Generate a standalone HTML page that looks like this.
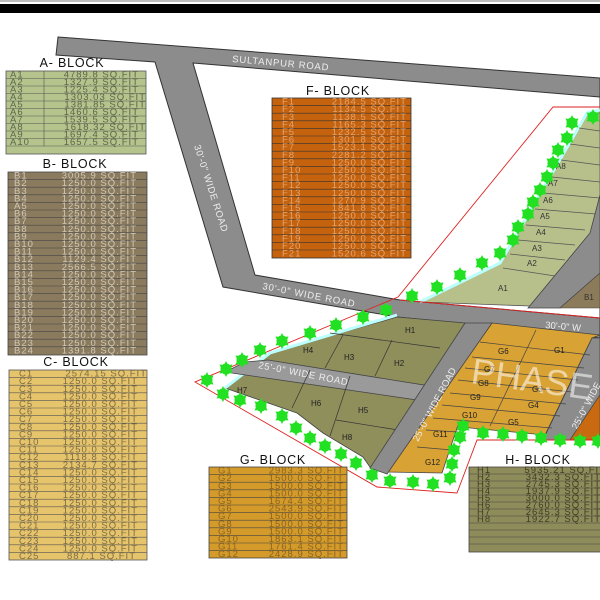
<!DOCTYPE html>
<html><head><meta charset="utf-8"><style>
html,body{margin:0;padding:0;background:#fff;width:600px;height:600px;overflow:hidden}
svg{display:block}
text{font-family:"Liberation Sans",sans-serif}
.tv text{font-size:9.5px;letter-spacing:1px}
</style></head><body>
<svg width="600" height="600" viewBox="0 0 600 600" xmlns="http://www.w3.org/2000/svg">
<defs>
<g id="t"><circle r="5.5" fill="#22e022"/><path d="M0,-8 L2,-4 L6.5,-4.5 L4.5,0 L6.5,4.5 L2,4 L0,8 L-2,4 L-6.5,4.5 L-4.5,0 L-6.5,-4.5 L-2,-4Z" fill="#22e022"/></g>
</defs>
<rect width="600" height="600" fill="#fff"/>
<rect x="0" y="0" width="600" height="2" fill="#bbb"/>
<rect x="0" y="4" width="600" height="9" fill="#000"/>

<polygon points="58,37 600,78 600,338 397,317 223,287 155,62 56,55" fill="#8c8c8c" stroke="#333" stroke-width="1"/>
<polygon points="193,63 600,97 600,318 400,300 255,275" fill="#fff" stroke="#333" stroke-width="1"/>
<text x="232" y="62" font-size="9.5" fill="#eee" letter-spacing="0.8" transform="rotate(5 232 62)">SULTANPUR ROAD</text>
<text x="194" y="146" font-size="9.5" fill="#eee" letter-spacing="0.6" transform="rotate(72 194 146)">30'-0" WIDE ROAD</text>
<text x="262" y="289" font-size="9.5" fill="#eee" letter-spacing="0.8" transform="rotate(11 262 289)">30'-0" WIDE ROAD</text>
<text x="545" y="328" font-size="9.5" fill="#eee" transform="rotate(5 545 328)">30'-0" W</text>

<polygon points="420,302 500,263 587,113 600,110 600,300 530,306" fill="#b7bf8b" stroke="#555" stroke-width="0.8"/>
<polyline points="420,302 500,263 587,113 600,110" fill="none" stroke="#bff" stroke-width="3"/>
<g stroke="#555" stroke-width="0.7">
<line x1="503" y1="268" x2="555" y2="276"/><line x1="510" y1="254" x2="565" y2="260"/>
<line x1="518" y1="240" x2="575" y2="245"/><line x1="526" y1="225" x2="585" y2="230"/>
<line x1="535" y1="209" x2="596" y2="214"/><line x1="543" y1="193" x2="600" y2="198"/>
<line x1="552" y1="177" x2="600" y2="182"/><line x1="561" y1="160" x2="600" y2="165"/>
<line x1="570" y1="144" x2="600" y2="148"/><line x1="579" y1="128" x2="600" y2="131"/>
</g>
<polygon points="528,308 560,308 600,273 600,195 590,233" fill="#8c8c8c" stroke="#444" stroke-width="0.8"/>
<polygon points="560,308 600,308 600,273" fill="#8c7b5a" stroke="#444" stroke-width="0.6"/>
<g font-size="8" fill="#333">
<text x="498" y="291">A1</text><text x="527" y="266">A2</text><text x="532" y="251">A3</text>
<text x="536" y="235">A4</text><text x="540" y="219">A5</text><text x="543" y="203">A6</text>
<text x="548" y="186">A7</text><text x="556" y="169">A8</text><text x="584" y="300">B1</text>
</g>

<polygon points="397,317 465,323 372,470 363,457 323,433 297,413 225,388 270,353" fill="#8f8f5c" stroke="#444" stroke-width="0.8"/>
<polyline points="225,388 270,353 397,315" fill="none" stroke="#bff" stroke-width="3"/>
<polygon points="268,360 430,386 424,401 225,372 245,362" fill="#9a9a9a" stroke="#444" stroke-width="0.8"/>
<text x="258" y="368" font-size="9.5" fill="#eee" letter-spacing="0.6" transform="rotate(11 258 368)">25'-0" WIDE ROAD</text>
<g stroke="#333" stroke-width="0.7">
<line x1="330" y1="333" x2="440" y2="348"/><line x1="343" y1="335" x2="325" y2="368"/>
<line x1="392" y1="340" x2="375" y2="376"/><line x1="310" y1="370" x2="292" y2="408"/>
<line x1="350" y1="376" x2="330" y2="436"/><line x1="336" y1="420" x2="398" y2="430"/>
<line x1="420" y1="400" x2="398" y2="460"/>
</g>
<g font-size="8" fill="#222">
<text x="405" y="333">H1</text><text x="394" y="366">H2</text><text x="344" y="360">H3</text>
<text x="303" y="353">H4</text><text x="237" y="393">H7</text><text x="311" y="406">H6</text>
<text x="358" y="413">H5</text><text x="342" y="440">H8</text>
</g>

<polygon points="492,323 600,335 592,338 545,435 460,427 458,425 442,473 387,472" fill="#d9a234" stroke="#444" stroke-width="0.8"/>
<polygon points="465,323 492,323 387,474 370,468" fill="#8c8c8c" stroke="#444" stroke-width="0.8"/>
<text x="418" y="442" font-size="9.5" fill="#eee" transform="rotate(-62 418 442)">25'-0" WIDE ROAD</text>
<polygon points="592,338 600,338 600,395 570,440 543,440" fill="#8c8c8c" stroke="#444" stroke-width="0.8"/>
<text x="577" y="430" font-size="9.5" fill="#eee" transform="rotate(-62 577 430)">25'-0" WIDE</text>
<polygon points="600,395 600,440 570,440" fill="#c96a10" stroke="#444" stroke-width="0.6"/>
<g stroke="#444" stroke-width="0.7">
<line x1="480" y1="342" x2="590" y2="355"/><line x1="472" y1="357" x2="584" y2="368"/>
<line x1="465" y1="368" x2="578" y2="380"/><line x1="458" y1="380" x2="572" y2="392"/>
<line x1="450" y1="393" x2="566" y2="404"/><line x1="442" y1="405" x2="560" y2="416"/>
<line x1="433" y1="418" x2="552" y2="428"/><line x1="426" y1="430" x2="458" y2="432"/>
<line x1="417" y1="447" x2="452" y2="450"/><line x1="536" y1="330" x2="490" y2="426"/>
</g>
<g font-size="8" fill="#222">
<text x="498" y="354">G6</text><text x="554" y="353">G1</text><text x="484" y="372">G7</text>
<text x="478" y="386">G8</text><text x="532" y="392">G3</text><text x="470" y="400">G9</text>
<text x="528" y="408">G4</text><text x="462" y="418">G10</text><text x="508" y="425">G5</text>
<text x="433" y="437">G11</text><text x="425" y="465">G12</text>
</g>
<text x="470" y="383" font-size="36" fill="#fff" fill-opacity="0.55" transform="rotate(8 470 383)">PHASE</text>

<polyline points="600,107 553,107 398,297 195,382 377,487 457,493 477,440 600,440" fill="none" stroke="#d22" stroke-width="0.9"/>
<polyline points="400,300 600,318" fill="none" stroke="#d22" stroke-width="0.9"/>

<g>
<use href="#t" x="593" y="117"/><use href="#t" x="572" y="123"/><use href="#t" x="567" y="138"/><use href="#t" x="558" y="150"/>
<use href="#t" x="553" y="163"/><use href="#t" x="547" y="177"/><use href="#t" x="540" y="190"/><use href="#t" x="533" y="202"/>
<use href="#t" x="528" y="214"/><use href="#t" x="518" y="227"/><use href="#t" x="513" y="240"/><use href="#t" x="500" y="253"/>
<use href="#t" x="482" y="263"/><use href="#t" x="460" y="275"/><use href="#t" x="437" y="287"/><use href="#t" x="412" y="296"/>
<use href="#t" x="386" y="310"/><use href="#t" x="363" y="317"/><use href="#t" x="336" y="325"/><use href="#t" x="310" y="333"/>
<use href="#t" x="282" y="341"/><use href="#t" x="260" y="350"/><use href="#t" x="242" y="360"/><use href="#t" x="226" y="369"/>
<use href="#t" x="207" y="380"/><use href="#t" x="223" y="394"/><use href="#t" x="240" y="400"/><use href="#t" x="261" y="406"/>
<use href="#t" x="282" y="416"/><use href="#t" x="296" y="428"/><use href="#t" x="310" y="438"/><use href="#t" x="325" y="446"/>
<use href="#t" x="341" y="454"/><use href="#t" x="356" y="463"/><use href="#t" x="372" y="475"/><use href="#t" x="390" y="481"/>
<use href="#t" x="413" y="482"/><use href="#t" x="433" y="484"/><use href="#t" x="450" y="478"/><use href="#t" x="452" y="464"/>
<use href="#t" x="454" y="450"/><use href="#t" x="460" y="437"/><use href="#t" x="463" y="426"/>
<use href="#t" x="483" y="433"/><use href="#t" x="503" y="434"/><use href="#t" x="522" y="436"/><use href="#t" x="541" y="438"/>
<use href="#t" x="560" y="440"/><use href="#t" x="580" y="441"/><use href="#t" x="598" y="441"/>
</g>

<g font-size="12.5" fill="#111" text-anchor="middle" letter-spacing="0.8">
<text x="72" y="67">A- BLOCK</text>
<text x="75" y="168">B- BLOCK</text>
<text x="76" y="366">C- BLOCK</text>
<text x="338" y="95">F- BLOCK</text>
<text x="273" y="464">G- BLOCK</text>
<text x="538" y="464">H- BLOCK</text>
</g>

<rect x="6" y="71" width="140" height="83" fill="#b4c48c" stroke="#555" stroke-width="0.8"/>
<g stroke="#555" stroke-width="0.6">
<path d="M6,78.5H146M6,86H146M6,93.5H146M6,101H146M6,108.5H146M6,116H146M6,123.5H146M6,131H146M6,138.5H146M6,146H146M44,71V146"/>
</g>
<g class="tv" fill="#5d654a">
<text x="10" y="77.5">A1</text><text x="10" y="85">A2</text><text x="10" y="92.5">A3</text><text x="10" y="100">A4</text><text x="10" y="107.5">A5</text><text x="10" y="115">A6</text><text x="10" y="122.5">A7</text><text x="10" y="130">A8</text><text x="10" y="137.5">A9</text><text x="10" y="145">A10</text>
</g>
<g class="tv" fill="#5d654a" text-anchor="end">
<text x="139" y="77.5">4789.8 SQ.FIT</text><text x="139" y="85">1327.9 SQ.FIT</text><text x="139" y="92.5">1225.4 SQ.FIT</text><text x="146" y="100">1303.03 SQ.FIT</text><text x="146" y="107.5">1381.85 SQ.FIT</text><text x="139" y="115">1460.6 SQ.FIT</text><text x="139" y="122.5">1539.5 SQ.FIT</text><text x="146" y="130">1618.32 SQ.FIT</text><text x="139" y="137.5">1697.4 SQ.FIT</text><text x="139" y="145">1657.5 SQ.FIT</text>
</g>

<rect x="8" y="172" width="139" height="183" fill="#8b7b5e" stroke="#444" stroke-width="0.8"/>
<g stroke="#444" stroke-width="0.6"><path d="M8,179.6H147M8,187.2H147M8,194.8H147M8,202.4H147M8,210H147M8,217.6H147M8,225.2H147M8,232.8H147M8,240.4H147M8,248H147M8,255.6H147M8,263.2H147M8,270.8H147M8,278.4H147M8,286H147M8,293.6H147M8,301.2H147M8,308.8H147M8,316.4H147M8,324H147M8,331.6H147M8,339.2H147M8,346.8H147"/></g>
<g class="tv" fill="#cfc8b8">
<text x="14" y="178.6">B1</text><text x="14" y="186.2">B2</text><text x="14" y="193.8">B3</text><text x="14" y="201.4">B4</text><text x="14" y="209">A5</text><text x="14" y="216.6">B6</text><text x="14" y="224.2">B7</text><text x="14" y="231.8">B8</text><text x="14" y="239.4">B9</text><text x="14" y="247">B10</text><text x="14" y="254.6">B11</text><text x="14" y="262.2">B12</text><text x="14" y="269.8">B13</text><text x="14" y="277.4">B14</text><text x="14" y="285">B15</text><text x="14" y="292.6">B16</text><text x="14" y="300.2">B17</text><text x="14" y="307.8">B18</text><text x="14" y="315.4">B19</text><text x="14" y="323">B20</text><text x="14" y="330.6">B21</text><text x="14" y="338.2">B22</text><text x="14" y="345.8">B23</text><text x="14" y="353.4">B24</text>
</g>
<g class="tv" fill="#cfc8b8" text-anchor="end">
<text x="137" y="178.6">3005.9 SQ.FIT</text><text x="137" y="186.2">1250.0 SQ.FIT</text><text x="137" y="193.8">1250.0 SQ.FIT</text><text x="137" y="201.4">1250.0 SQ.FIT</text><text x="137" y="209">1250.0 SQ.FIT</text><text x="137" y="216.6">1250.0 SQ.FIT</text><text x="137" y="224.2">1250.0 SQ.FIT</text><text x="137" y="231.8">1250.0 SQ.FIT</text><text x="137" y="239.4">1250.0 SQ.FIT</text><text x="137" y="247">1250.0 SQ.FIT</text><text x="137" y="254.6">1250.0 SQ.FIT</text><text x="137" y="262.2">1129.4 SQ.FIT</text><text x="137" y="269.8">2566.5 SQ.FIT</text><text x="137" y="277.4">1250.0 SQ.FIT</text><text x="137" y="285">1250.0 SQ.FIT</text><text x="137" y="292.6">1250.0 SQ.FIT</text><text x="137" y="300.2">1250.0 SQ.FIT</text><text x="137" y="307.8">1250.0 SQ.FIT</text><text x="137" y="315.4">1250.0 SQ.FIT</text><text x="137" y="323">1250.0 SQ.FIT</text><text x="137" y="330.6">1250.0 SQ.FIT</text><text x="137" y="338.2">1250.0 SQ.FIT</text><text x="137" y="345.8">1250.0 SQ.FIT</text><text x="137" y="353.4">1391.8 SQ.FIT</text>
</g>

<rect x="9" y="370" width="138" height="190" fill="#e6c46c" stroke="#555" stroke-width="0.8"/>
<g stroke="#555" stroke-width="0.6"><path d="M9,377.6H147M9,385.2H147M9,392.8H147M9,400.4H147M9,408H147M9,415.6H147M9,423.2H147M9,430.8H147M9,438.4H147M9,446H147M9,453.6H147M9,461.2H147M9,468.8H147M9,476.4H147M9,484H147M9,491.6H147M9,499.2H147M9,506.8H147M9,514.4H147M9,522H147M9,529.6H147M9,537.2H147M9,544.8H147M9,552.4H147"/></g>
<g class="tv" fill="#7d6d45">
<text x="19" y="376.6">C1</text><text x="19" y="384.2">C2</text><text x="19" y="391.8">C3</text><text x="19" y="399.4">C4</text><text x="19" y="407">C5</text><text x="19" y="414.6">C6</text><text x="19" y="422.2">C7</text><text x="19" y="429.8">C8</text><text x="19" y="437.4">C9</text><text x="19" y="445">C10</text><text x="19" y="452.6">C11</text><text x="19" y="460.2">C12</text><text x="19" y="467.8">C13</text><text x="19" y="475.4">C14</text><text x="19" y="483">C15</text><text x="19" y="490.6">C16</text><text x="19" y="498.2">C17</text><text x="19" y="505.8">C18</text><text x="19" y="513.4">C19</text><text x="19" y="521">C20</text><text x="19" y="528.6">C21</text><text x="19" y="536.2">C22</text><text x="19" y="543.8">C23</text><text x="19" y="551.4">C24</text><text x="19" y="559">C25</text>
</g>
<g class="tv" fill="#7d6d45" text-anchor="end">
<text x="147" y="376.6">2574.15 SQ.FIT</text><text x="138" y="384.2">1250.0 SQ.FIT</text><text x="138" y="391.8">1250.0 SQ.FIT</text><text x="138" y="399.4">1250.0 SQ.FIT</text><text x="138" y="407">1250.0 SQ.FIT</text><text x="138" y="414.6">1250.0 SQ.FIT</text><text x="138" y="422.2">1250.0 SQ.FIT</text><text x="138" y="429.8">1250.0 SQ.FIT</text><text x="138" y="437.4">1250.0 SQ.FIT</text><text x="138" y="445">1250.0 SQ.FIT</text><text x="138" y="452.6">1250.0 SQ.FIT</text><text x="138" y="460.2">1118.8 SQ.FIT</text><text x="138" y="467.8">2134.7 SQ.FIT</text><text x="138" y="475.4">1250.0 SQ.FIT</text><text x="138" y="483">1250.0 SQ.FIT</text><text x="138" y="490.6">1250.0 SQ.FIT</text><text x="138" y="498.2">1250.0 SQ.FIT</text><text x="138" y="505.8">1250.0 SQ.FIT</text><text x="138" y="513.4">1250.0 SQ.FIT</text><text x="138" y="521">1250.0 SQ.FIT</text><text x="138" y="528.6">1250.0 SQ.FIT</text><text x="138" y="536.2">1250.0 SQ.FIT</text><text x="138" y="543.8">1250.0 SQ.FIT</text><text x="138" y="551.4">1250.0 SQ.FIT</text><text x="136" y="559">887.1 SQ.FIT</text>
</g>

<rect x="272" y="98" width="139" height="160" fill="#c4620e" stroke="#333" stroke-width="0.8"/>
<g stroke="#333" stroke-width="0.6"><path d="M272,105.6H411M272,113.2H411M272,120.8H411M272,128.4H411M272,136H411M272,143.6H411M272,151.2H411M272,158.8H411M272,166.4H411M272,174H411M272,181.6H411M272,189.2H411M272,196.8H411M272,204.4H411M272,212H411M272,219.6H411M272,227.2H411M272,234.8H411M272,242.4H411M272,250H411"/></g>
<g class="tv" fill="#e0a470">
<text x="282" y="104.6">F1</text><text x="282" y="112.2">F2</text><text x="282" y="119.8">F3</text><text x="282" y="127.4">F4</text><text x="282" y="135">F5</text><text x="282" y="142.6">F6</text><text x="282" y="150.2">F7</text><text x="282" y="157.8">F8</text><text x="282" y="165.4">F9</text><text x="282" y="173">F10</text><text x="282" y="180.6">F11</text><text x="282" y="188.2">F12</text><text x="282" y="195.8">F13</text><text x="282" y="203.4">F14</text><text x="282" y="211">F15</text><text x="282" y="218.6">F16</text><text x="282" y="226.2">F17</text><text x="282" y="233.8">F18</text><text x="282" y="241.4">F19</text><text x="282" y="249">F20</text><text x="282" y="256.6">F21</text>
</g>
<g class="tv" fill="#e0a470" text-anchor="end">
<text x="407" y="104.6">2184.5 SQ.FIT</text><text x="407" y="112.2">1134.5 SQ.FIT</text><text x="407" y="119.8">1138.5 SQ.FIT</text><text x="407" y="127.4">1165.3 SQ.FIT</text><text x="407" y="135">1232.5 SQ.FIT</text><text x="407" y="142.6">1301.8 SQ.FIT</text><text x="407" y="150.2">1523.1 SQ.FIT</text><text x="407" y="157.8">2281.2 SQ.FIT</text><text x="407" y="165.4">1250.0 SQ.FIT</text><text x="407" y="173">1250.0 SQ.FIT</text><text x="407" y="180.6">1250.0 SQ.FIT</text><text x="407" y="188.2">1250.0 SQ.FIT</text><text x="407" y="195.8">1250.0 SQ.FIT</text><text x="407" y="203.4">1270.9 SQ.FIT</text><text x="407" y="211">1841.8 SQ.FIT</text><text x="407" y="218.6">1250.0 SQ.FIT</text><text x="407" y="226.2">1250.0 SQ.FIT</text><text x="407" y="233.8">1250.0 SQ.FIT</text><text x="407" y="241.4">1250.0 SQ.FIT</text><text x="407" y="249">1250.0 SQ.FIT</text><text x="407" y="256.6">1520.6 SQ.FIT</text>
</g>

<rect x="209" y="467" width="138" height="91" fill="#d49b2b" stroke="#444" stroke-width="0.8"/>
<g stroke="#444" stroke-width="0.6"><path d="M209,474.6H347M209,482.2H347M209,489.8H347M209,497.4H347M209,505H347M209,512.6H347M209,520.2H347M209,527.8H347M209,535.4H347M209,543H347M209,550.6H347"/></g>
<g class="tv" fill="#8a6420">
<text x="218" y="473.6">G1</text><text x="218" y="481.2">G2</text><text x="218" y="488.8">G3</text><text x="218" y="496.4">G4</text><text x="218" y="504">G5</text><text x="218" y="511.6">G6</text><text x="218" y="519.2">G7</text><text x="218" y="526.8">G8</text><text x="218" y="534.4">G9</text><text x="218" y="542">G10</text><text x="218" y="549.6">G11</text><text x="218" y="557.2">G12</text>
</g>
<g class="tv" fill="#8a6420" text-anchor="end">
<text x="344" y="473.6">2983.3 SQ.FIT</text><text x="344" y="481.2">1500.0 SQ.FIT</text><text x="344" y="488.8">1500.0 SQ.FIT</text><text x="344" y="496.4">1500.0 SQ.FIT</text><text x="344" y="504">1674.4 SQ.FIT</text><text x="344" y="511.6">2543.9 SQ.FIT</text><text x="344" y="519.2">1500.0 SQ.FIT</text><text x="344" y="526.8">1500.0 SQ.FIT</text><text x="344" y="534.4">1500.0 SQ.FIT</text><text x="344" y="542">1863.1 SQ.FIT</text><text x="344" y="549.6">1761.4 SQ.FIT</text><text x="344" y="557.2">2428.9 SQ.FIT</text>
</g>

<rect x="469" y="467" width="140" height="85" fill="#8e8c5a" stroke="#444" stroke-width="0.8"/>
<g stroke="#444" stroke-width="0.6"><path d="M469,474H609M469,481H609M469,488H609M469,495H609M469,502H609M469,509H609M469,516H609M469,523H609M469,530H609M469,537H609M469,544H609"/></g>
<g class="tv" fill="#3e3d25">
<text x="477" y="473">H1</text><text x="477" y="480">H2</text><text x="477" y="487">H3</text><text x="477" y="494">H4</text><text x="477" y="501">H5</text><text x="477" y="508">H6</text><text x="477" y="515">H7</text><text x="477" y="522">H8</text>
</g>
<g class="tv" fill="#3e3d25" text-anchor="end">
<text x="606" y="473">5935.21 SQ.FIT</text><text x="601" y="480">3432.3 SQ.FIT</text><text x="601" y="487">2745.3 SQ.FIT</text><text x="601" y="494">1937.9 SQ.FIT</text><text x="601" y="501">3000.0 SQ.FIT</text><text x="601" y="508">2760.0 SQ.FIT</text><text x="601" y="515">2645.3 SQ.FIT</text><text x="601" y="522">1922.7 SQ.FIT</text>
</g>
</svg>
</body></html>
